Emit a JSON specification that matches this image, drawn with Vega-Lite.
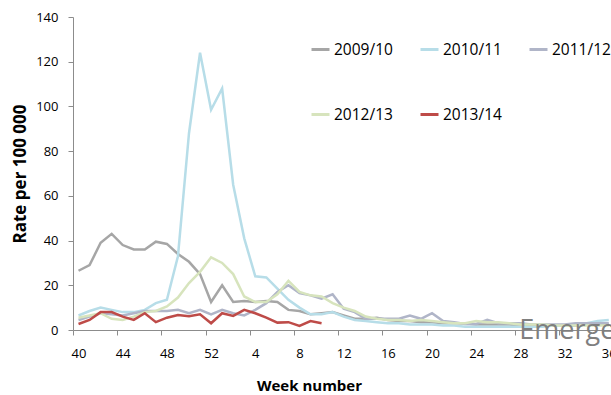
{
  "$schema": "https://vega.github.io/schema/vega-lite/v6.json",
  "width": 538,
  "height": 313,
  "autosize": {"type": "none"},
  "padding": {"left": 73, "top": 17, "right": 0, "bottom": 65},
  "config": {
    "view": {"stroke": null},
    "font": "Open Sans",
    "axis": {
      "grid": false,
      "domainColor": "#8c8c8c",
      "tickColor": "#8c8c8c",
      "domainWidth": 1,
      "tickWidth": 1,
      "labelColor": "#000000",
      "titleColor": "#000000",
      "labelFont": "Open Sans",
      "titleFont": "Open Sans",
      "labelFontSize": 13,
      "titleFontSize": 15,
      "titleFontWeight": "bold"
    }
  },
  "datasets": {
    "rates": [
      {"season":"2009/10","i":0,"rate":26.5},{"season":"2009/10","i":1,"rate":29},{"season":"2009/10","i":2,"rate":39},{"season":"2009/10","i":3,"rate":43},{"season":"2009/10","i":4,"rate":38},{"season":"2009/10","i":5,"rate":36},{"season":"2009/10","i":6,"rate":36},{"season":"2009/10","i":7,"rate":39.5},{"season":"2009/10","i":8,"rate":38.5},{"season":"2009/10","i":9,"rate":34},{"season":"2009/10","i":10,"rate":30.5},{"season":"2009/10","i":11,"rate":25},{"season":"2009/10","i":12,"rate":12.5},{"season":"2009/10","i":13,"rate":20},{"season":"2009/10","i":14,"rate":12.5},{"season":"2009/10","i":15,"rate":13},{"season":"2009/10","i":16,"rate":12.5},{"season":"2009/10","i":17,"rate":13},{"season":"2009/10","i":18,"rate":12.5},{"season":"2009/10","i":19,"rate":9},{"season":"2009/10","i":20,"rate":8.5},{"season":"2009/10","i":21,"rate":7},{"season":"2009/10","i":22,"rate":7.5},{"season":"2009/10","i":23,"rate":8},{"season":"2009/10","i":24,"rate":6.5},{"season":"2009/10","i":25,"rate":5},{"season":"2009/10","i":26,"rate":5},{"season":"2009/10","i":27,"rate":5.5},{"season":"2009/10","i":28,"rate":4.5},{"season":"2009/10","i":29,"rate":4},{"season":"2009/10","i":30,"rate":4},{"season":"2009/10","i":31,"rate":3.5},{"season":"2009/10","i":32,"rate":3.5},{"season":"2009/10","i":33,"rate":3},{"season":"2009/10","i":34,"rate":3},{"season":"2009/10","i":35,"rate":3},{"season":"2009/10","i":36,"rate":2.5},{"season":"2009/10","i":37,"rate":2.5},{"season":"2009/10","i":38,"rate":2.5},{"season":"2009/10","i":39,"rate":2.5},{"season":"2009/10","i":40,"rate":2},{"season":"2009/10","i":41,"rate":2},{"season":"2009/10","i":42,"rate":2},{"season":"2009/10","i":43,"rate":2},{"season":"2009/10","i":44,"rate":2},{"season":"2009/10","i":45,"rate":2},{"season":"2009/10","i":46,"rate":2.5},{"season":"2009/10","i":47,"rate":2.5},{"season":"2009/10","i":48,"rate":2.5},
      {"season":"2010/11","i":0,"rate":6.5},{"season":"2010/11","i":1,"rate":8.5},{"season":"2010/11","i":2,"rate":10},{"season":"2010/11","i":3,"rate":9},{"season":"2010/11","i":4,"rate":8},{"season":"2010/11","i":5,"rate":8},{"season":"2010/11","i":6,"rate":9},{"season":"2010/11","i":7,"rate":12},{"season":"2010/11","i":8,"rate":13.5},{"season":"2010/11","i":9,"rate":33},{"season":"2010/11","i":10,"rate":88},{"season":"2010/11","i":11,"rate":124},{"season":"2010/11","i":12,"rate":98.5},{"season":"2010/11","i":13,"rate":108},{"season":"2010/11","i":14,"rate":65},{"season":"2010/11","i":15,"rate":41},{"season":"2010/11","i":16,"rate":24},{"season":"2010/11","i":17,"rate":23.5},{"season":"2010/11","i":18,"rate":18.5},{"season":"2010/11","i":19,"rate":13.5},{"season":"2010/11","i":20,"rate":10},{"season":"2010/11","i":21,"rate":7},{"season":"2010/11","i":22,"rate":7},{"season":"2010/11","i":23,"rate":8},{"season":"2010/11","i":24,"rate":6},{"season":"2010/11","i":25,"rate":4.5},{"season":"2010/11","i":26,"rate":4},{"season":"2010/11","i":27,"rate":3.5},{"season":"2010/11","i":28,"rate":3},{"season":"2010/11","i":29,"rate":3},{"season":"2010/11","i":30,"rate":2.5},{"season":"2010/11","i":31,"rate":2.5},{"season":"2010/11","i":32,"rate":2.5},{"season":"2010/11","i":33,"rate":2},{"season":"2010/11","i":34,"rate":2},{"season":"2010/11","i":35,"rate":1.5},{"season":"2010/11","i":36,"rate":1.5},{"season":"2010/11","i":37,"rate":1.5},{"season":"2010/11","i":38,"rate":1.5},{"season":"2010/11","i":39,"rate":1.5},{"season":"2010/11","i":40,"rate":1.5},{"season":"2010/11","i":41,"rate":1.5},{"season":"2010/11","i":42,"rate":1.5},{"season":"2010/11","i":43,"rate":2},{"season":"2010/11","i":44,"rate":2},{"season":"2010/11","i":45,"rate":2.5},{"season":"2010/11","i":46,"rate":3},{"season":"2010/11","i":47,"rate":4},{"season":"2010/11","i":48,"rate":4.5},
      {"season":"2011/12","i":0,"rate":4.5},{"season":"2011/12","i":1,"rate":6},{"season":"2011/12","i":2,"rate":7.5},{"season":"2011/12","i":3,"rate":7},{"season":"2011/12","i":4,"rate":6.5},{"season":"2011/12","i":5,"rate":7.5},{"season":"2011/12","i":6,"rate":8.5},{"season":"2011/12","i":7,"rate":8.5},{"season":"2011/12","i":8,"rate":8.5},{"season":"2011/12","i":9,"rate":9},{"season":"2011/12","i":10,"rate":7.5},{"season":"2011/12","i":11,"rate":9},{"season":"2011/12","i":12,"rate":7},{"season":"2011/12","i":13,"rate":9},{"season":"2011/12","i":14,"rate":7.5},{"season":"2011/12","i":15,"rate":6.5},{"season":"2011/12","i":16,"rate":9},{"season":"2011/12","i":17,"rate":12},{"season":"2011/12","i":18,"rate":17},{"season":"2011/12","i":19,"rate":20},{"season":"2011/12","i":20,"rate":16.5},{"season":"2011/12","i":21,"rate":15.5},{"season":"2011/12","i":22,"rate":14},{"season":"2011/12","i":23,"rate":16},{"season":"2011/12","i":24,"rate":9.5},{"season":"2011/12","i":25,"rate":8},{"season":"2011/12","i":26,"rate":5},{"season":"2011/12","i":27,"rate":5},{"season":"2011/12","i":28,"rate":5},{"season":"2011/12","i":29,"rate":5},{"season":"2011/12","i":30,"rate":6.5},{"season":"2011/12","i":31,"rate":5},{"season":"2011/12","i":32,"rate":7.5},{"season":"2011/12","i":33,"rate":4},{"season":"2011/12","i":34,"rate":3.5},{"season":"2011/12","i":35,"rate":2.7},{"season":"2011/12","i":36,"rate":2.7},{"season":"2011/12","i":37,"rate":4.5},{"season":"2011/12","i":38,"rate":3},{"season":"2011/12","i":39,"rate":3},{"season":"2011/12","i":40,"rate":3},{"season":"2011/12","i":41,"rate":2.5},{"season":"2011/12","i":42,"rate":2.5},{"season":"2011/12","i":43,"rate":2.5},{"season":"2011/12","i":44,"rate":2.5},{"season":"2011/12","i":45,"rate":3},{"season":"2011/12","i":46,"rate":3},{"season":"2011/12","i":47,"rate":3},{"season":"2011/12","i":48,"rate":3},
      {"season":"2012/13","i":0,"rate":5.5},{"season":"2012/13","i":1,"rate":6.5},{"season":"2012/13","i":2,"rate":7.5},{"season":"2012/13","i":3,"rate":5},{"season":"2012/13","i":4,"rate":4.5},{"season":"2012/13","i":5,"rate":6},{"season":"2012/13","i":6,"rate":8},{"season":"2012/13","i":7,"rate":8.5},{"season":"2012/13","i":8,"rate":10.5},{"season":"2012/13","i":9,"rate":14.5},{"season":"2012/13","i":10,"rate":21},{"season":"2012/13","i":11,"rate":26},{"season":"2012/13","i":12,"rate":32.5},{"season":"2012/13","i":13,"rate":30},{"season":"2012/13","i":14,"rate":25},{"season":"2012/13","i":15,"rate":15},{"season":"2012/13","i":16,"rate":12.5},{"season":"2012/13","i":17,"rate":12.5},{"season":"2012/13","i":18,"rate":16},{"season":"2012/13","i":19,"rate":22},{"season":"2012/13","i":20,"rate":17},{"season":"2012/13","i":21,"rate":15.5},{"season":"2012/13","i":22,"rate":15},{"season":"2012/13","i":23,"rate":12},{"season":"2012/13","i":24,"rate":10},{"season":"2012/13","i":25,"rate":8.5},{"season":"2012/13","i":26,"rate":6},{"season":"2012/13","i":27,"rate":5},{"season":"2012/13","i":28,"rate":4.5},{"season":"2012/13","i":29,"rate":4.5},{"season":"2012/13","i":30,"rate":4},{"season":"2012/13","i":31,"rate":4.5},{"season":"2012/13","i":32,"rate":4},{"season":"2012/13","i":33,"rate":3.5},{"season":"2012/13","i":34,"rate":3},{"season":"2012/13","i":35,"rate":3},{"season":"2012/13","i":36,"rate":4},{"season":"2012/13","i":37,"rate":3.5},{"season":"2012/13","i":38,"rate":3.5},{"season":"2012/13","i":39,"rate":3},{"season":"2012/13","i":40,"rate":2.5},{"season":"2012/13","i":41,"rate":2.5},{"season":"2012/13","i":42,"rate":2.5},{"season":"2012/13","i":43,"rate":2},{"season":"2012/13","i":44,"rate":2},{"season":"2012/13","i":45,"rate":2},{"season":"2012/13","i":46,"rate":2},{"season":"2012/13","i":47,"rate":2},{"season":"2012/13","i":48,"rate":2},
      {"season":"2013/14","i":0,"rate":2.7},{"season":"2013/14","i":1,"rate":4.5},{"season":"2013/14","i":2,"rate":8},{"season":"2013/14","i":3,"rate":8},{"season":"2013/14","i":4,"rate":6},{"season":"2013/14","i":5,"rate":4.5},{"season":"2013/14","i":6,"rate":7.5},{"season":"2013/14","i":7,"rate":3.5},{"season":"2013/14","i":8,"rate":5.5},{"season":"2013/14","i":9,"rate":6.7},{"season":"2013/14","i":10,"rate":6.2},{"season":"2013/14","i":11,"rate":7},{"season":"2013/14","i":12,"rate":3},{"season":"2013/14","i":13,"rate":7.5},{"season":"2013/14","i":14,"rate":6.3},{"season":"2013/14","i":15,"rate":9},{"season":"2013/14","i":16,"rate":7.5},{"season":"2013/14","i":17,"rate":5.5},{"season":"2013/14","i":18,"rate":3.3},{"season":"2013/14","i":19,"rate":3.5},{"season":"2013/14","i":20,"rate":1.8},{"season":"2013/14","i":21,"rate":4},{"season":"2013/14","i":22,"rate":3}
    ]
  },
  "layer": [
    {
      "mark": {"type": "rule", "strokeDash": [10, 6], "color": "#bdb5d5", "strokeWidth": 2.5},
      "encoding": {"y": {"datum": 16, "type": "quantitative"}}
    },
    {
      "data": {"name": "rates"},
      "mark": {"type": "line", "strokeWidth": 2.5, "clip": true},
      "encoding": {
        "x": {
          "field": "i",
          "type": "quantitative",
          "scale": {"domain": [-0.5, 48.2], "nice": false, "zero": false},
          "axis": {
            "title": "Week number",
            "titleX": 236,
            "titleAlign": "center",
            "titleAnchor": null,
            "values": [-0.5, 1.5, 3.5, 5.5, 7.5, 9.5, 11.5, 13.5, 15.5, 17.5, 19.5, 21.5, 23.5, 25.5, 27.5, 29.5, 31.5, 33.5, 35.5, 37.5, 39.5, 41.5, 43.5, 45.5, 47.5],
            "labelExpr": "(datum.value + 0.5) % 4 === 0 ? ((datum.value + 0.5) < 13 ? '' + (40 + datum.value + 0.5) : '' + (datum.value + 0.5 - 12)) : ''",
            "labelOffset": 5.5,
            "labelOverlap": false,
            "labelFlush": false,
            "labelBound": false,
            "tickSize": 5,
            "labelPadding": 12,
            "titlePadding": 18
          }
        },
        "y": {
          "field": "rate",
          "type": "quantitative",
          "scale": {"domain": [0, 140], "nice": false},
          "axis": {
            "title": "Rate per 100 000",
            "titleFontSize": 17,
            "values": [0, 20, 40, 60, 80, 100, 120, 140],
            "tickSize": 5,
            "labelPadding": 10,
            "titlePadding": 6
          }
        },
        "color": {
          "field": "season",
          "type": "nominal",
          "scale": {
            "domain": ["2009/10", "2010/11", "2011/12", "2012/13", "2013/14"],
            "range": ["#a6a6a6", "#b7dde8", "#b0b5c8", "#d7e4bd", "#be4b48"]
          },
          "legend": {
            "title": null,
            "orient": "none",
            "direction": "horizontal",
            "legendX": 237,
            "legendY": 22,
            "columns": 3,
            "columnPadding": 21,
            "rowPadding": 46,
            "symbolType": "stroke",
            "symbolSize": 324,
            "symbolStrokeWidth": 3,
            "labelFontSize": 15.5,
            "labelFont": "Open Sans",
            "labelColor": "#000000",
            "labelOffset": 3
          }
        }
      }
    },
    {
      "data": {"values": [{"label": "Emergency", "i": 39.9, "rate": -4}]},
      "mark": {"type": "text", "align": "left", "baseline": "alphabetic", "font": "Open Sans", "fontSize": 27, "color": "#7f7f7f"},
      "encoding": {
        "x": {"field": "i", "type": "quantitative"},
        "y": {"field": "rate", "type": "quantitative"},
        "text": {"field": "label"}
      }
    }
  ]
}
